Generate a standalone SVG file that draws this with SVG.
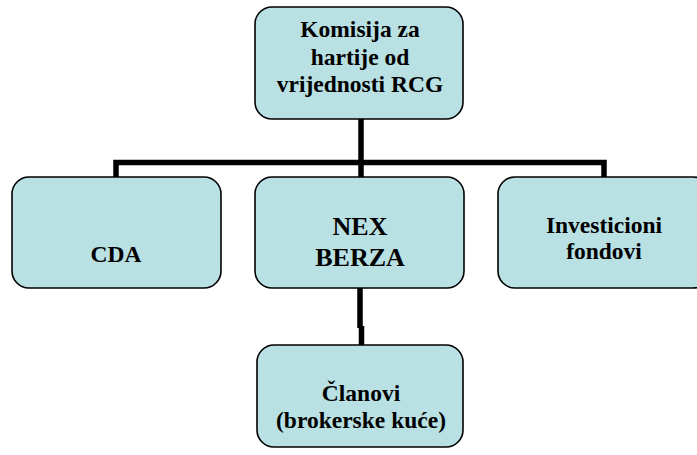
<svg xmlns="http://www.w3.org/2000/svg" width="697" height="455" viewBox="0 0 697 455">
<style>
.box{fill:#b9e0e3;stroke:#000;stroke-width:1.6}
text{font-family:'Liberation Serif','Times New Roman',Times,'DejaVu Serif',serif;font-weight:700;font-size:23.5px;fill:#000;text-anchor:middle}
.big{font-size:26px}
.c{fill:none;stroke:#000;stroke-width:5.5;stroke-linejoin:miter}
</style>
<rect width="697" height="455" fill="#fff"/>
<g id="connectors">
<path class="c" d="M361 119 V178"/>
<path class="c" d="M116 178 V162.5 H604 V178"/>
<path class="c" d="M360 288 V328 M361.5 326 V346"/>
</g>
<g id="komisija">
<rect class="box" x="255" y="7" width="208" height="112" rx="17"/>
<text x="360" y="37">Komisija za</text>
<text x="360" y="65">hartije od</text>
<text x="360" y="92">vrijednosti RCG</text>
</g>
<g id="cda">
<rect class="box" x="12" y="177" width="209" height="111" rx="17"/>
<text x="116" y="262">CDA</text>
</g>
<g id="nex">
<rect class="box" x="255" y="177" width="209" height="111" rx="17"/>
<text class="big" x="360" y="235">NEX</text>
<text class="big" x="360" y="266">BERZA</text>
</g>
<g id="investicioni">
<rect class="box" x="498" y="177" width="212" height="111" rx="17"/>
<text x="604" y="233">Investicioni</text>
<text x="604" y="259">fondovi</text>
</g>
<g id="clanovi">
<rect class="box" x="257" y="345" width="206" height="102" rx="17"/>
<text x="361" y="401">Članovi</text>
<text x="361" y="428">(brokerske kuće)</text>
</g>
</svg>
